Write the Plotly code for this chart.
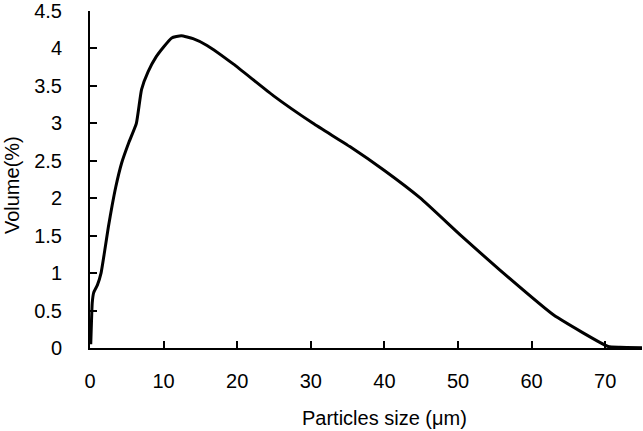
import plotly.graph_objects as go

size_um = [0.1, 0.2, 0.3, 0.5, 1.0, 1.5, 2.0, 2.5, 3.0, 3.5, 4.3, 5.3, 6.3, 7.0, 7.9,
           9.0, 10.0, 11.1, 12.4, 14.0, 15.9, 19.5, 24.9, 30.3, 35.3, 40.0,
           44.9, 50.3, 55.7, 63.0, 70.4, 72.0, 75.0]
volume_pct = [0.05, 0.35, 0.6, 0.74, 0.84, 1.0, 1.3, 1.62, 1.9, 2.15, 2.47, 2.75, 3.0,
              3.45, 3.69, 3.89, 4.02, 4.14, 4.17, 4.13, 4.04, 3.79, 3.37, 3.0,
              2.69, 2.37, 2.0, 1.51, 1.04, 0.44, 0.02, 0.01, 0.005]

x_ticks = [0, 10, 20, 30, 40, 50, 60, 70]
y_ticks = [0, 0.5, 1, 1.5, 2, 2.5, 3, 3.5, 4, 4.5]
y_labels = ["0", "0.5", "1", "1.5", "2", "2.5", "3", "3.5", "4", "4.5"]

font = "Liberation Sans, Arial, sans-serif"

fig = go.Figure()
fig.add_trace(go.Scatter(x=size_um, y=volume_pct, mode="lines",
                         line=dict(color="black", width=3, shape="spline", smoothing=0.4),
                         showlegend=False))

fig.update_layout(
    width=643, height=431,
    margin=dict(l=90, r=1, t=11, b=83),
    paper_bgcolor="white", plot_bgcolor="white",
    font=dict(family=font, size=20, color="black"),
    xaxis=dict(range=[0, 75], tickvals=x_ticks, ticks="inside", ticklen=7, tickwidth=1.5,
               tickcolor="black", showline=True, linecolor="black", linewidth=2,
               showgrid=False, zeroline=False, ticklabelstandoff=14,
               tickfont=dict(family=font, size=20, color="black")),
    yaxis=dict(range=[0, 4.5], tickvals=y_ticks, ticktext=y_labels, ticks="inside",
               ticklen=7, tickwidth=1.5, tickcolor="black", showline=True,
               linecolor="black", linewidth=2, showgrid=False, zeroline=False,
               ticklabelstandoff=22,
               tickfont=dict(family=font, size=20, color="black")),
    annotations=[
        dict(text="Particles size (μm)", xref="paper", yref="paper", x=0.534, y=0,
             yshift=-70, xanchor="center", yanchor="middle", showarrow=False,
             font=dict(family=font, size=20, color="black")),
        dict(text="Volume(%)", xref="paper", yref="paper", x=-0.141, y=0.484,
             xanchor="center", yanchor="middle", textangle=-90, showarrow=False,
             font=dict(family=font, size=20, color="black")),
    ],
)

fig.write_html("out.html")
